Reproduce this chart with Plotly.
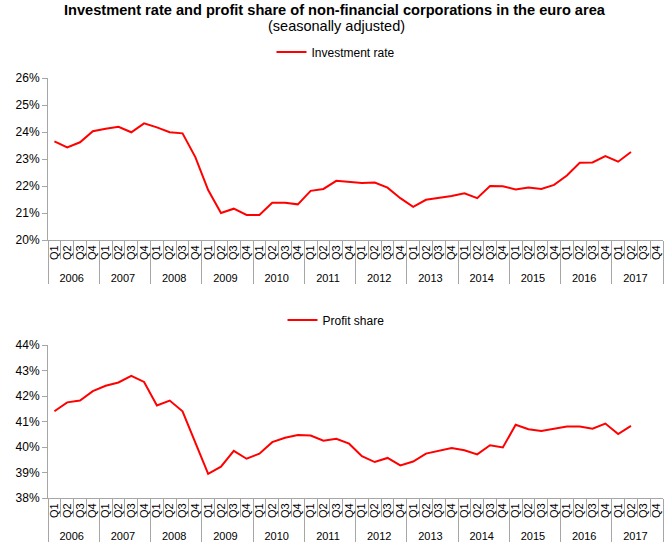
import plotly.graph_objects as go

years = [str(y) for y in range(2006, 2018)]
quarters = ["Q1", "Q2", "Q3", "Q4"]

investment_rate = [
    23.65, 23.43, 23.62, 24.03,
    24.12, 24.19, 23.99, 24.32,
    24.17, 23.99, 23.95, 23.07,
    21.85, 21.00, 21.16, 20.93,
    20.93, 21.38, 21.38, 21.32,
    21.82, 21.89, 22.19, 22.16,
    22.11, 22.13, 21.94, 21.55,
    21.23, 21.49, 21.55, 21.63,
    21.73, 21.55, 22.00, 21.99,
    21.87, 21.94, 21.89, 22.04,
    22.39, 22.86, 22.87, 23.11,
    22.90, 23.26, None, None,
]

profit_share = [
    41.40, 41.75, 41.82, 42.19,
    42.40, 42.53, 42.79, 42.55,
    41.63, 41.82, 41.40, 40.20,
    38.95, 39.23, 39.85, 39.54,
    39.74, 40.19, 40.36, 40.47,
    40.45, 40.25, 40.32, 40.13,
    39.64, 39.41, 39.57, 39.28,
    39.43, 39.74, 39.85, 39.96,
    39.87, 39.71, 40.07, 39.98,
    40.87, 40.70, 40.63, 40.71,
    40.80, 40.80, 40.72, 40.92,
    40.51, 40.83, None, None,
]

x_outer = [y for y in years for _ in quarters]
x_inner = [q for _ in years for q in quarters]

W, H = 672, 556
FONT = "Liberation Sans, Arial, sans-serif"
AXIS_COL = "#a6a6a6"
RED = "#ff0000"


def py(pix):
    return 1 - pix / H


fig = go.Figure()
fig.add_trace(go.Scatter(
    x=[x_outer, x_inner], y=investment_rate, mode="lines",
    line=dict(color=RED, width=2), name="Investment rate",
    xaxis="x", yaxis="y", legend="legend", connectgaps=False,
))
fig.add_trace(go.Scatter(
    x=[x_outer, x_inner], y=profit_share, mode="lines",
    line=dict(color=RED, width=2), name="Profit share",
    xaxis="x2", yaxis="y2", legend="legend2", connectgaps=False,
))

xcommon = dict(
    type="multicategory", showline=True, linecolor=AXIS_COL, linewidth=1,
    ticks="outside", tickson="boundaries", ticklen=18, tickcolor=AXIS_COL,
    tickmode="linear", tick0=0, dtick=1,
    tickangle=-90, showdividers=True, dividercolor=AXIS_COL, dividerwidth=1,
    tickfont=dict(family=FONT, size=11, color="#000000"),
    showgrid=False, zeroline=False, automargin=False,
    range=[-0.5, 47.5], domain=[48 / W, 663 / W],
)
ycommon = dict(
    showline=True, linecolor=AXIS_COL, linewidth=1, ticks="outside",
    ticklen=5, tickcolor=AXIS_COL, showgrid=False, zeroline=False,
    ticksuffix="%", dtick=1, automargin=False,
    tickfont=dict(family=FONT, size=12, color="#000000"),
)

fig.update_layout(
    width=W, height=H,
    margin=dict(l=0, r=0, t=0, b=0),
    paper_bgcolor="white", plot_bgcolor="white",
    font=dict(family=FONT, color="#000000"),
    xaxis=dict(**xcommon, anchor="y"),
    yaxis=dict(**ycommon, range=[20, 26], anchor="x",
               domain=[py(240), py(78)]),
    xaxis2=dict(**xcommon, anchor="y2"),
    yaxis2=dict(**ycommon, range=[38, 44], anchor="x2",
                domain=[py(498), py(345)]),
    legend=dict(x=336 / W, y=py(52), xanchor="center", yanchor="middle",
                orientation="h", font=dict(family=FONT, size=12),
                bgcolor="rgba(0,0,0,0)", itemwidth=30),
    legend2=dict(x=336 / W, y=py(320), xanchor="center", yanchor="middle",
                 orientation="h", font=dict(family=FONT, size=12),
                 bgcolor="rgba(0,0,0,0)", itemwidth=30),
    showlegend=True,
    annotations=[
        dict(text="<b>Investment rate and profit share of non-financial corporations in the euro area</b>",
             x=335 / W, y=py(10), xref="paper", yref="paper",
             xanchor="center", yanchor="middle", showarrow=False,
             font=dict(family=FONT, size=14.6, color="#000000")),
        dict(text="(seasonally adjusted)",
             x=336 / W, y=py(26), xref="paper", yref="paper",
             xanchor="center", yanchor="middle", showarrow=False,
             font=dict(family=FONT, size=14.5, color="#000000")),
    ],
)

fig.write_html("out.html", config={"displayModeBar": False},
               post_script="document.body.style.margin='0';")
